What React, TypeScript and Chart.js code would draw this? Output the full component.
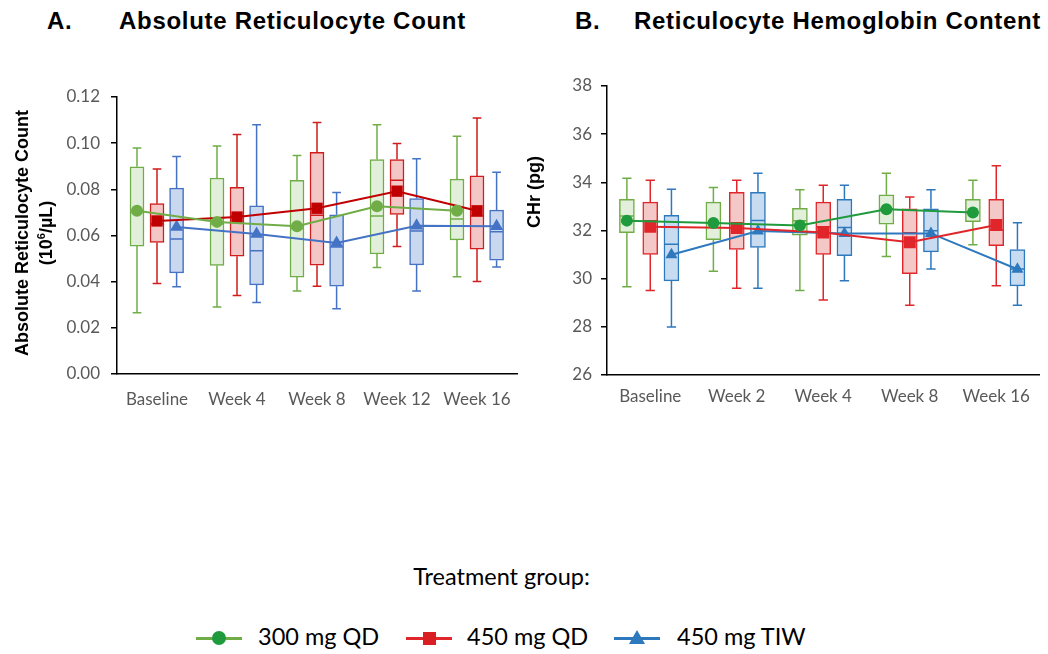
import React, { useEffect, useRef } from 'react';
import { Chart, registerables } from 'chart.js';
Chart.register(...registerables);

// ---------- Panel A: Absolute Reticulocyte Count ----------
const catsA = ['Baseline', 'Week 4', 'Week 8', 'Week 12', 'Week 16'];
const yTicksA = [0, 0.02, 0.04, 0.06, 0.08, 0.1, 0.12];

const a300Min = [0.0265, 0.029, 0.036, 0.0461, 0.0421];
const a300Q1 = [0.0554, 0.047, 0.042, 0.052, 0.0581];
const a300Med = [0.07, 0.065, 0.063, 0.0684, 0.0672];
const a300Q3 = [0.0898, 0.0849, 0.0839, 0.0929, 0.0844];
const a300Max = [0.0979, 0.0988, 0.0947, 0.108, 0.103];
const a300Mean = [0.0707, 0.0659, 0.064, 0.0727, 0.0707];

const a450Min = [0.0392, 0.034, 0.038, 0.0552, 0.0401];
const a450Q1 = [0.057, 0.051, 0.0471, 0.0691, 0.0541];
const a450Med = [0.065, 0.0685, 0.0688, 0.0839, 0.0685];
const a450Q3 = [0.0738, 0.0809, 0.096, 0.0929, 0.0858];
const a450Max = [0.0888, 0.1038, 0.1089, 0.0999, 0.1109];
const a450Mean = [0.0663, 0.068, 0.0718, 0.0792, 0.0707];

const aTiwMin = [0.0378, 0.031, 0.0283, 0.036, 0.0464];
const aTiwQ1 = [0.0438, 0.0386, 0.038, 0.0473, 0.0493];
const aTiwMed = [0.0585, 0.0534, 0.055, 0.062, 0.0616];
const aTiwQ3 = [0.0805, 0.0728, 0.069, 0.076, 0.071];
const aTiwMax = [0.0942, 0.108, 0.0786, 0.0933, 0.0874];
const aTiwMean = [0.0637, 0.0606, 0.0568, 0.0642, 0.064];

// ---------- Panel B: Reticulocyte Hemoglobin Content ----------
const catsB = ['Baseline', 'Week 2', 'Week 4', 'Week 8', 'Week 16'];
const yTicksB = [26, 28, 30, 32, 34, 36, 38];

const b300Min = [29.66, 30.31, 29.51, 30.92, 31.41];
const b300Q1 = [31.91, 31.62, 31.81, 32.26, 32.37];
const b300Med = [32.6, 32.3, 32.4, 32.9, 32.75];
const b300Q3 = [33.29, 33.18, 32.92, 33.48, 33.29];
const b300Max = [34.17, 33.79, 33.69, 34.38, 34.09];
const b300Mean = [32.41, 32.31, 32.21, 32.88, 32.75];

const b450Min = [29.51, 29.6, 29.11, 28.9, 29.71];
const b450Q1 = [31.01, 31.21, 31.01, 30.21, 31.37];
const b450Med = [32.4, 32.1, 32.16, 31.91, 32.02];
const b450Q3 = [33.18, 33.58, 33.18, 32.9, 33.29];
const b450Max = [34.09, 34.09, 33.88, 33.39, 34.69];
const b450Mean = [32.16, 32.1, 31.92, 31.51, 32.23];

const bTiwMin = [27.99, 29.6, 29.91, 30.4, 28.9];
const bTiwQ1 = [29.91, 31.3, 30.96, 31.11, 29.7];
const bTiwMed = [31.43, 32.42, 32.12, 31.99, 30.4];
const bTiwQ3 = [32.63, 33.58, 33.29, 32.9, 31.21];
const bTiwMax = [33.71, 34.38, 33.88, 33.69, 32.32];
const bTiwMean = [30.99, 31.98, 31.88, 31.88, 30.39];

const groupNames = ['300 mg QD', '450 mg QD', '450 mg TIW'];

type Group = {
  name: string;
  offset: number;
  min: number[]; q1: number[]; med: number[]; q3: number[]; max: number[]; mean: number[];
  boxColor: string; fill: string; lineColor: string; markerColor: string;
  pointStyle: string; pointRadius: number;
};

type PanelCfg = {
  cats: string[];
  yTicks: number[];
  decimals: number;
  groups: Group[];
  boxW: number;
  yAxisW: number;
  xAxisH: number;
  padTop: number;
  padRight: number;
  xPad: number;
  yPad: number;
  width: number;
  height: number;
};

const panelA: PanelCfg = {
  cats: catsA, yTicks: yTicksA, decimals: 2, boxW: 14, yAxisW: 117, xAxisH: 46, padTop: 37, padRight: 8,
  xPad: 7, yPad: 11, width: 525, height: 360,
  groups: [
    { name: groupNames[0], offset: -0.25, min: a300Min, q1: a300Q1, med: a300Med, q3: a300Q3, max: a300Max, mean: a300Mean,
      boxColor: '#70ad47', fill: '#e2efda', lineColor: '#70ad47', markerColor: '#70ad47', pointStyle: 'circle', pointRadius: 6 },
    { name: groupNames[1], offset: 0, min: a450Min, q1: a450Q1, med: a450Med, q3: a450Q3, max: a450Max, mean: a450Mean,
      boxColor: '#d01c1c', fill: '#f4c6c6', lineColor: '#c00000', markerColor: '#c00000', pointStyle: 'rect', pointRadius: 8 },
    { name: groupNames[2], offset: 0.245, min: aTiwMin, q1: aTiwQ1, med: aTiwMed, q3: aTiwQ3, max: aTiwMax, mean: aTiwMean,
      boxColor: '#4472c4', fill: '#cad8ef', lineColor: '#4472c4', markerColor: '#4472c4', pointStyle: 'triangle', pointRadius: 7.5 },
  ],
};

const panelB: PanelCfg = {
  cats: catsB, yTicks: yTicksB, decimals: 0, boxW: 15, yAxisW: 82, xAxisH: 45, padTop: 26, padRight: 0,
  xPad: 3, yPad: 9, width: 523, height: 360,
  groups: [
    { name: groupNames[0], offset: -0.27, min: b300Min, q1: b300Q1, med: b300Med, q3: b300Q3, max: b300Max, mean: b300Mean,
      boxColor: '#70ad47', fill: '#e2efda', lineColor: '#1f9a3c', markerColor: '#1f9a3c', pointStyle: 'circle', pointRadius: 6 },
    { name: groupNames[1], offset: 0, min: b450Min, q1: b450Q1, med: b450Med, q3: b450Q3, max: b450Max, mean: b450Mean,
      boxColor: '#e0262b', fill: '#f5c8c8', lineColor: '#e0262b', markerColor: '#e0262b', pointStyle: 'rect', pointRadius: 8.5 },
    { name: groupNames[2], offset: 0.245, min: bTiwMin, q1: bTiwQ1, med: bTiwMed, q3: bTiwQ3, max: bTiwMax, mean: bTiwMean,
      boxColor: '#2e78be', fill: '#c7dcf0', lineColor: '#2e78be', markerColor: '#2e78be', pointStyle: 'triangle', pointRadius: 7 },
  ],
};

function makeBoxPlugin(groups: Group[]) {
  return {
    id: 'boxWhiskers',
    afterDatasetDraw(chart: any, args: any) {
      const idx = args.index;
      if (idx >= groups.length) return;
      const g = groups[idx];
      const yS = chart.scales.y;
      const ctx = chart.ctx;
      ctx.save();
      ctx.strokeStyle = g.boxColor;
      ctx.lineWidth = 1.5;
      args.meta.data.forEach((el: any, i: number) => {
        const { x, width } = el.getProps(['x', 'width'], true);
        const pMin = yS.getPixelForValue(g.min[i]);
        const pQ1 = yS.getPixelForValue(g.q1[i]);
        const pMed = yS.getPixelForValue(g.med[i]);
        const pQ3 = yS.getPixelForValue(g.q3[i]);
        const pMax = yS.getPixelForValue(g.max[i]);
        const cap = width * 0.62;
        const half = width / 2 - 0.75;
        ctx.beginPath();
        ctx.moveTo(x, pQ3); ctx.lineTo(x, pMax);
        ctx.moveTo(x - cap / 2, pMax); ctx.lineTo(x + cap / 2, pMax);
        ctx.moveTo(x, pQ1); ctx.lineTo(x, pMin);
        ctx.moveTo(x - cap / 2, pMin); ctx.lineTo(x + cap / 2, pMin);
        ctx.moveTo(x - half, pMed); ctx.lineTo(x + half, pMed);
        ctx.stroke();
      });
      ctx.restore();
    },
  };
}

function Panel({ cfg, left, top }: { cfg: PanelCfg; left: number; top: number }) {
  const ref = useRef<HTMLCanvasElement | null>(null);
  useEffect(() => {
    if (!ref.current) return;
    const { cats, groups } = cfg;
    const datasets: any[] = [];
    groups.forEach((g) => {
      datasets.push({
        type: 'bar',
        label: g.name + ' box',
        data: cats.map((_, i) => ({ x: i + g.offset, y: [g.q1[i], g.q3[i]] })),
        backgroundColor: g.fill,
        borderColor: g.boxColor,
        borderWidth: 1.5,
        borderSkipped: false,
        grouped: false,
        barThickness: cfg.boxW,
        order: 2,
      });
    });
    groups.forEach((g) => {
      datasets.push({
        type: 'line',
        label: g.name,
        data: cats.map((_, i) => ({ x: i + g.offset, y: g.mean[i] })),
        borderColor: g.lineColor,
        backgroundColor: g.markerColor,
        borderWidth: 2,
        pointStyle: g.pointStyle,
        pointRadius: g.pointRadius,
        pointBackgroundColor: g.markerColor,
        pointBorderColor: g.markerColor,
        pointBorderWidth: 0,
        tension: 0,
        order: 1,
      });
    });
    const yT = cfg.yTicks;
    const chart = new Chart(ref.current, {
      type: 'bar',
      data: { datasets },
      plugins: [makeBoxPlugin(groups)],
      options: {
        responsive: false,
        animation: false,
        maintainAspectRatio: false,
        layout: { padding: { top: cfg.padTop, right: cfg.padRight, left: 0, bottom: 0 } },
        plugins: { legend: { display: false }, tooltip: { enabled: false }, title: { display: false } },
        scales: {
          x: {
            type: 'linear',
            min: -0.5,
            max: cats.length - 0.5,
            offset: false,
            grid: { display: false },
            border: { display: true, color: '#000', width: 1.5 },
            ticks: {
              color: '#595959',
              font: { family: 'Lato', size: 17 },
              padding: cfg.xPad,
              autoSkip: false,
              maxRotation: 0,
              callback: (v: any) => cats[Math.round(Number(v))] ?? '',
            },
            afterBuildTicks: (s: any) => { s.ticks = cats.map((_, i) => ({ value: i })); },
            afterFit: (s: any) => { s.height = cfg.xAxisH; },
          },
          y: {
            type: 'linear',
            min: yT[0],
            max: yT[yT.length - 1],
            grid: { display: true, drawOnChartArea: false, drawTicks: true, tickLength: 6, color: '#000', lineWidth: 1.5 },
            border: { display: true, color: '#000', width: 1.5 },
            ticks: {
              color: '#595959',
              font: { family: 'Lato', size: 17 },
              padding: cfg.yPad,
              callback: (v: any) => Number(v).toFixed(cfg.decimals),
            },
            afterBuildTicks: (s: any) => { s.ticks = yT.map((v) => ({ value: v })); },
            afterFit: (s: any) => { s.width = cfg.yAxisW; },
          },
        },
      } as any,
    });
    return () => chart.destroy();
  }, [cfg]);
  return (
    <canvas
      ref={ref}
      width={cfg.width}
      height={cfg.height}
      style={{ position: 'absolute', left, top, width: cfg.width, height: cfg.height }}
    />
  );
}

const titleFont: React.CSSProperties = {
  position: 'absolute',
  fontFamily: '"Liberation Sans", Arial, sans-serif',
  fontWeight: 'bold',
  fontSize: 24,
  letterSpacing: '0.7px',
  lineHeight: 'normal',
  color: '#000',
  whiteSpace: 'nowrap',
};

const axisTitle: React.CSSProperties = {
  position: 'absolute',
  fontFamily: '"Liberation Sans", Arial, sans-serif',
  fontWeight: 'bold',
  fontSize: 18,
  lineHeight: '24px',
  color: '#000',
  textAlign: 'center',
  whiteSpace: 'nowrap',
  transform: 'rotate(-90deg)',
  transformOrigin: 'center center',
};

const legendText: React.CSSProperties = {
  position: 'absolute',
  fontFamily: 'Lato, sans-serif',
  fontSize: 23.5,
  lineHeight: 'normal',
  color: '#000',
  whiteSpace: 'nowrap',
};

function LegendItem({ x, lineColor, markerColor, shape, textX, label }: any) {
  const cy = 638;
  let marker: React.ReactNode = null;
  if (shape === 'circle') {
    marker = <div style={{ position: 'absolute', left: x + 23 - 7, top: cy - 7, width: 14, height: 14, borderRadius: '50%', background: markerColor }} />;
  } else if (shape === 'rect') {
    marker = <div style={{ position: 'absolute', left: x + 23 - 6.5, top: cy - 6.5, width: 13, height: 13, background: markerColor }} />;
  } else {
    marker = <div style={{ position: 'absolute', left: x + 23 - 8, top: cy - 8, width: 0, height: 0, borderLeft: '8px solid transparent', borderRight: '8px solid transparent', borderBottom: `14px solid ${markerColor}` }} />;
  }
  return (
    <>
      <div style={{ position: 'absolute', left: x, top: cy - 1.5, width: 46, height: 3, background: lineColor }} />
      {marker}
      <div style={{ ...legendText, left: textX, top: 622 }}>{label}</div>
    </>
  );
}

export default function App() {
  return (
    <div style={{ position: 'fixed', left: 0, top: 0, width: 1048, height: 654, background: '#fff', overflow: 'hidden' }}>
      <div style={{ ...titleFont, left: 47, top: 7 }}>A.</div>
      <div style={{ ...titleFont, left: 119, top: 7 }}>Absolute Reticulocyte Count</div>
      <div style={{ ...titleFont, left: 575, top: 7 }}>B.</div>
      <div style={{ ...titleFont, left: 634, top: 7 }}>Reticulocyte Hemoglobin Content</div>

      <Panel cfg={panelA} left={0} top={60} />
      <Panel cfg={panelB} left={525} top={60} />

      <div style={{ ...axisTitle, width: 300, height: 48, left: 34 - 150, top: 233 - 24 }}>
        Absolute Reticulocyte Count
        <br />
        (10<sup style={{ fontSize: '0.62em', lineHeight: 0 }}>6</sup>/µL)
      </div>
      <div style={{ ...axisTitle, width: 120, height: 24, left: 534 - 60, top: 192 - 12 }}>CHr (pg)</div>

      <div style={{ ...legendText, left: 0, width: 1003, textAlign: 'center', top: 562 }}>Treatment group:</div>

      <LegendItem x={196} lineColor="#70ad47" markerColor="#1f9a3c" shape="circle" textX={258} label={groupNames[0]} />
      <LegendItem x={406} lineColor="#e0262b" markerColor="#d91f24" shape="rect" textX={467} label={groupNames[1]} />
      <LegendItem x={614} lineColor="#2e78be" markerColor="#2e78be" shape="triangle" textX={677} label={groupNames[2]} />
    </div>
  );
}
